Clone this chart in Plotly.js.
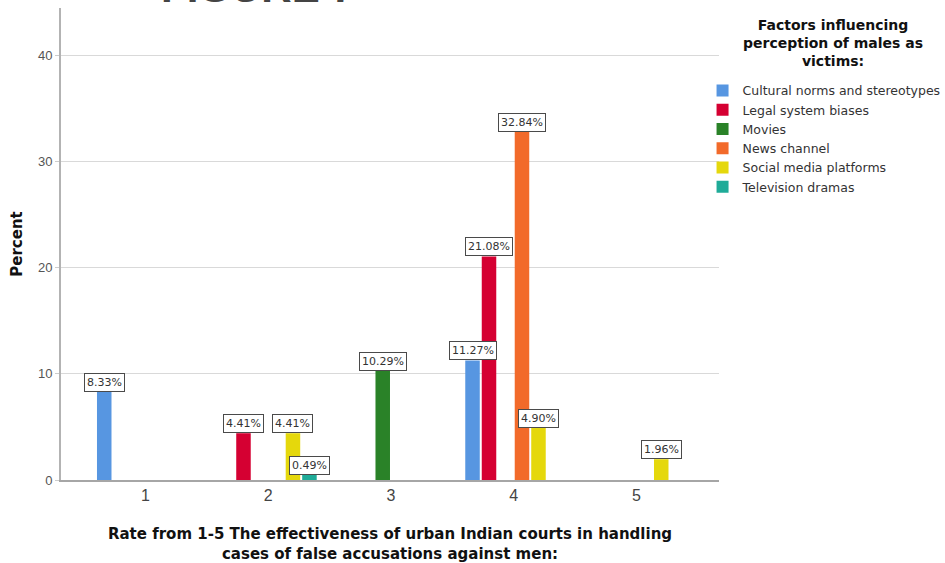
<!DOCTYPE html>
<html>
<head>
<meta charset="utf-8">
<script src="https://cdn.plot.ly/plotly-3.0.1.min.js"></script>
<style>
  html, body { margin: 0; padding: 0; background: #ffffff; }
  #chart { width: 945px; height: 563px; }
</style>
</head>
<body>
<div id="chart"></div>
<script>
// Rating categories on the x axis
const categories = [1, 2, 3, 4, 5];

// Factor names (legend entries)
const seriesNames = [
  'Cultural norms and stereotypes',
  'Legal system biases',
  'Movies',
  'News channel',
  'Social media platforms',
  'Television dramas'
];

// Percent of respondents per rating, one array per factor
const cultural   = [8.33, 0, 0, 11.27, 0];
const legal      = [0, 4.41, 0, 21.08, 0];
const movies     = [0, 0, 10.29, 0, 0];
const news       = [0, 0, 0, 32.84, 0];
const social     = [0, 4.41, 0, 4.90, 1.96];
const television = [0, 0.49, 0, 0, 0];

const seriesValues = [cultural, legal, movies, news, social, television];
const seriesColors = ['#5796e1', '#d50032', '#2a8228', '#f26a2a', '#e5d80c', '#1fab98'];

const legendHeading = 'Factors influencing<br>perception of males as<br>victims:';

const BAR_GAP = 0.194;
const BAR_GROUP_GAP = 0.12;

const traces = seriesNames.map((name, i) => ({
  type: 'bar',
  name: name,
  x: categories,
  y: seriesValues[i],
  marker: { color: seriesColors[i], line: { width: 0 } },
  hoverinfo: 'x+y+name'
}));

// Value boxes above each non-empty bar, placed on the same slot as the bar
const nSeries = seriesNames.length;
const groupWidth = 1 - BAR_GAP;
const slotWidth = groupWidth / nSeries;
const annotations = [];
seriesValues.forEach((vals, i) => {
  vals.forEach((v, j) => {
    if (v > 0) {
      annotations.push({
        xref: 'x', yref: 'y',
        x: categories[j] - groupWidth / 2 + (i + 0.5) * slotWidth,
        y: v,
        yanchor: 'bottom',
        xanchor: 'center',
        text: v.toFixed(2) + '%',
        showarrow: false,
        bgcolor: '#ffffff',
        bordercolor: '#4a4a4a',
        borderwidth: 1,
        borderpad: 2,
        font: { family: 'DejaVu Sans', size: 11, color: '#333333' }
      });
    }
  });
});

// Figure heading, mostly above the page edge
annotations.push({
  xref: 'paper', yref: 'paper',
  x: 0.3, y: 0.9895,
  xanchor: 'center', yanchor: 'bottom',
  text: 'FIGURE 7',
  showarrow: false,
  font: { family: 'Liberation Sans', size: 42, color: '#444444', weight: 'bold' }
});

// Centred heading over the legend
annotations.push({
  xref: 'paper', yref: 'paper',
  x: 1.173, y: 0.9258,
  xanchor: 'center', yanchor: 'middle',
  align: 'center',
  text: legendHeading,
  showarrow: false,
  font: { family: 'DejaVu Sans', size: 14, color: '#111111', weight: 'bold' }
});

const layout = {
  width: 945,
  height: 563,
  margin: { l: 61, r: 226, t: 8, b: 83, autoexpand: false },
  paper_bgcolor: '#ffffff',
  plot_bgcolor: '#ffffff',
  barmode: 'group',
  bargap: BAR_GAP,
  bargroupgap: BAR_GROUP_GAP,
  showlegend: true,
  legend: {
    x: 0.975, xanchor: 'left',
    y: 0.856, yanchor: 'top',
    bgcolor: 'rgba(0,0,0,0)',
    traceorder: 'normal',
    font: { family: 'DejaVu Sans', size: 12.5, color: '#333333' }
  },
  xaxis: {
    type: 'linear',
    range: [0.312, 5.672],
    tickvals: categories,
    ticktext: categories.map(String),
    showgrid: false,
    zeroline: false,
    showline: true,
    linecolor: '#a6a6a6',
    linewidth: 2,
    ticks: '',
    tickfont: { family: 'Liberation Sans', size: 16, color: '#444444' },
    title: {
      text: 'Rate from 1-5 The effectiveness of urban Indian courts in handling<br>cases of false accusations against men:',
      font: { family: 'DejaVu Sans', size: 15, color: '#111111', weight: 'bold' },
      standoff: 26
    },
    fixedrange: true
  },
  yaxis: {
    range: [0, 44.5],
    tickvals: [0, 10, 20, 30, 40],
    showgrid: true,
    gridcolor: '#d9d9d9',
    gridwidth: 1,
    zeroline: false,
    showline: true,
    linecolor: '#b3b3b3',
    linewidth: 2,
    ticks: 'outside',
    ticklen: 4,
    tickcolor: '#cccccc',
    tickfont: { family: 'Liberation Sans', size: 13, color: '#555555' },
    title: {
      text: 'Percent',
      font: { family: 'DejaVu Sans', size: 15, color: '#111111', weight: 'bold' },
      standoff: 12
    },
    fixedrange: true
  },
  annotations: annotations
};

Plotly.newPlot('chart', traces, layout, { displayModeBar: false, staticPlot: true });
</script>
</body>
</html>
